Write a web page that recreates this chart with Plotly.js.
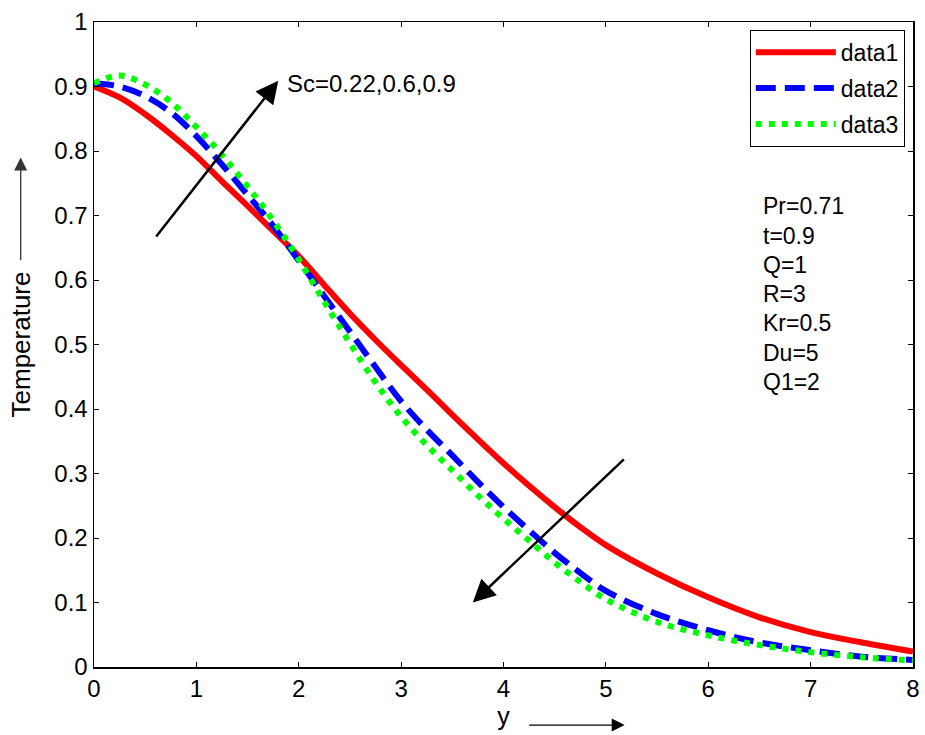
<!DOCTYPE html>
<html>
<head>
<meta charset="utf-8">
<script src="https://cdn.plot.ly/plotly-3.0.1.min.js"></script>
<style>html,body{margin:0;padding:0;background:#fff;}#chart{width:925px;height:735px;}</style>
</head>
<body>
<div id="chart"></div>
<script>
// ---- data ----
const yPos = [0,0.25,0.5,0.75,1,1.25,1.5,1.75,2,2.25,2.5,2.75,3,3.25,3.5,3.75,4,4.25,4.5,4.75,5,5.5,6,6.5,7,7.5,8];
const data1 = [0.900,0.883,0.857,0.826,0.792,0.753,0.715,0.676,0.637,0.592,0.548,0.507,0.468,0.430,0.391,0.353,0.316,0.281,0.248,0.217,0.189,0.145,0.108,0.077,0.054,0.038,0.024];
const data2 = [0.905,0.900,0.885,0.860,0.823,0.779,0.732,0.684,0.630,0.575,0.520,0.465,0.412,0.368,0.328,0.287,0.248,0.212,0.177,0.146,0.118,0.082,0.057,0.038,0.026,0.016,0.011];
const data3 = [0.905,0.917,0.903,0.876,0.837,0.794,0.745,0.692,0.632,0.566,0.502,0.441,0.388,0.344,0.305,0.266,0.230,0.196,0.162,0.132,0.105,0.070,0.049,0.034,0.023,0.015,0.010];
const seriesNames = ['data1','data2','data3'];
const xTicks = [0,1,2,3,4,5,6,7,8];
const yTickVals = [0,0.1,0.2,0.3,0.4,0.5,0.6,0.7,0.8,0.9,1];
const yTickText = ['0','0.1','0.2','0.3','0.4','0.5','0.6','0.7','0.8','0.9','1'];
const paramLines = ['Pr=0.71','t=0.9','Q=1','R=3','Kr=0.5','Du=5','Q1=2'];
const scLabel = 'Sc=0.22,0.6,0.9';

const FONT = 'Liberation Sans, Arial, sans-serif';
const traces = [
  {x: yPos, y: data1, name: seriesNames[0], legendgroup:'g1', mode:'lines', line:{color:'#ff0000', width:6, shape:'spline'}},
  {x: yPos, y: data2, name: seriesNames[1], legendgroup:'g2', mode:'lines', line:{color:'#0000ff', width:6, dash:'20px,9px', shape:'spline'}},
  {x: yPos, y: data3, name: seriesNames[2], legendgroup:'g3', mode:'lines', line:{color:'#00ff00', width:6, dash:'6px,7px', shape:'spline'}}
];

const annotations = [];
// Sc arrow (increasing)
annotations.push({x:1.80, y:0.909, ax:0.596, ay:0.665, xref:'x', yref:'y', axref:'x', ayref:'y', text:'', showarrow:true, arrowhead:2, arrowsize:1.8, arrowwidth:2.5, arrowcolor:'#000'});
annotations.push({x:1.87, y:0.905, xref:'x', yref:'y', text:scLabel, showarrow:false, xanchor:'left', yanchor:'middle', font:{family:FONT, size:24, color:'#000'}});
// second arrow (decreasing)
annotations.push({x:3.70, y:0.100, ax:5.19, ay:0.324, xref:'x', yref:'y', axref:'x', ayref:'y', text:'', showarrow:true, arrowhead:2, arrowsize:1.8, arrowwidth:2.5, arrowcolor:'#000'});
// parameter lines
paramLines.forEach((t,i)=>{
  annotations.push({x:6.52, y:0.714 - i*0.0453, xref:'x', yref:'y', text:t, showarrow:false, xanchor:'left', yanchor:'middle', font:{family:FONT, size:23, color:'#000'}});
});
// axis-title arrows
annotations.push({x:-0.0895, y:0.790, xref:'paper', yref:'paper', ax:0, ay:104, text:'', showarrow:true, arrowhead:2, arrowsize:2, arrowwidth:1.3, arrowcolor:'#333'});
annotations.push({x:0.648, y:-0.090, xref:'paper', yref:'paper', ax:-97, ay:0, text:'', showarrow:true, arrowhead:2, arrowsize:2, arrowwidth:1.3, arrowcolor:'#000'});

const layout = {
  width:925, height:735,
  margin:{l:94, r:12, t:22, b:68},
  paper_bgcolor:'#fff', plot_bgcolor:'#fff',
  font:{family:FONT, color:'#000'},
  showlegend:true,
  legend:{x:0.990, y:0.988, xanchor:'right', yanchor:'top', bgcolor:'#fff', bordercolor:'#000', borderwidth:1,
          font:{family:FONT, size:23, color:'#000'}, itemwidth:80, traceorder:'grouped', tracegroupgap:3},
  xaxis:{range:[0,8], tickvals:xTicks, ticks:'inside', ticklen:5, tickcolor:'#000', showgrid:false, zeroline:false,
         showline:true, linecolor:'#000', linewidth:1.5, mirror:'ticks', tickfont:{family:FONT, size:24, color:'#000'},
         title:{text:'y', font:{family:FONT, size:25, color:'#000'}, standoff:6}},
  yaxis:{range:[0,1], tickvals:yTickVals, ticktext:yTickText, ticks:'inside', ticklen:5, tickcolor:'#000', showgrid:false, zeroline:false,
         showline:true, linecolor:'#000', linewidth:1.5, mirror:'ticks', tickfont:{family:FONT, size:24, color:'#000'},
         title:{text:'Temperature', font:{family:FONT, size:26, color:'#000'}, standoff:16}},
  annotations: annotations
};
Plotly.newPlot('chart', traces, layout, {displayModeBar:false, staticPlot:true});
</script>
</body>
</html>
